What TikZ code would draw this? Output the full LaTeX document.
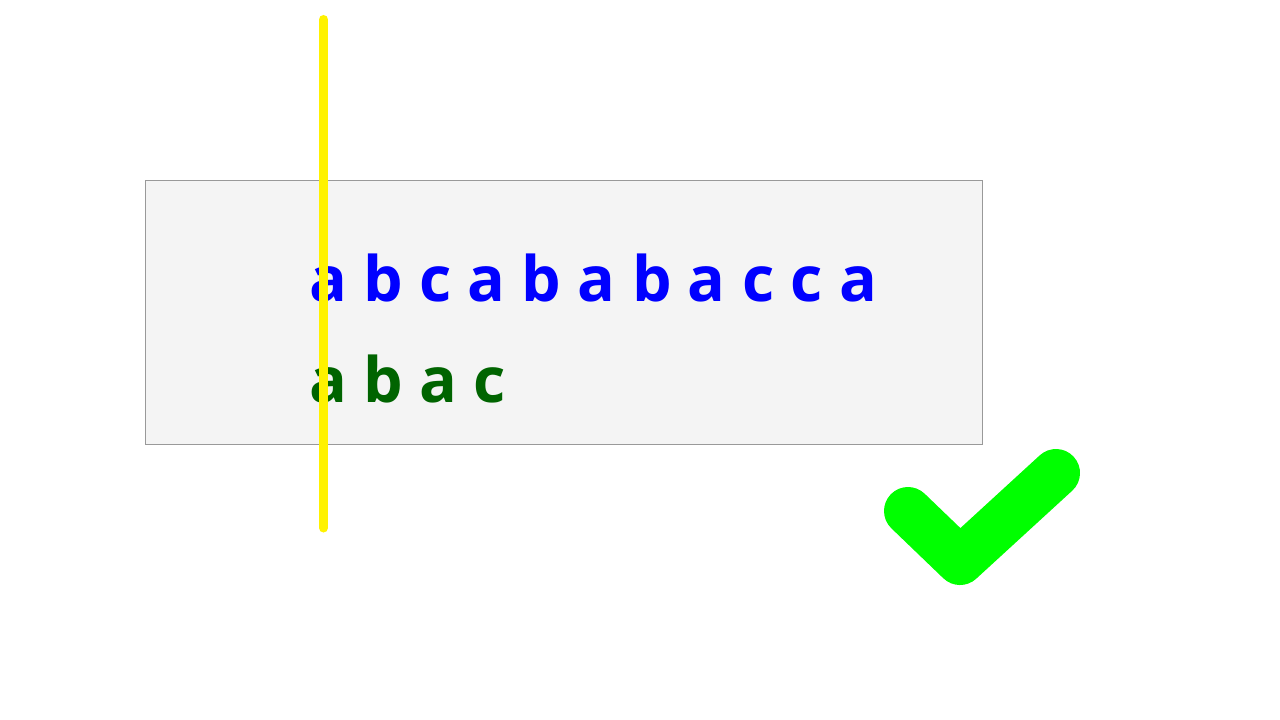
\documentclass[tikz,border=0pt]{standalone}
\usepackage{fontspec}
\setmainfont{Open Sans}
\usetikzlibrary{positioning}
\definecolor{panelgray}{HTML}{F4F4F4}
\definecolor{panelline}{HTML}{999999}
\definecolor{matchgreen}{HTML}{006400}
\definecolor{okgreen}{HTML}{00FF00}
\begin{document}
\begin{tikzpicture}[x=0.75pt, y=-0.75pt,
    panel/.style={draw=panelline, fill=panelgray, line width=0.75pt,
                  minimum width=627.75pt, minimum height=198pt, inner sep=0pt},
    seqtext/.style={anchor=base west, inner sep=0pt,
                    font=\bfseries\fontsize{47}{56}\selectfont},
    pointer/.style={draw=yellow, line width=6.75pt, line cap=round},
    tick/.style={draw=okgreen, line width=36pt, line cap=round, line join=round}
  ]
  \useasboundingbox (0,0) rectangle (1280,720);
  \node[panel] (box) at (564,312.5) {};

  \node[seqtext, text=blue]       (haystack) at (309,301) {a b c a b a b a c c a};
  \node[seqtext, text=matchgreen] (needle)   at (309,402) {a b a c};

  % current position
  \coordinate (ptrtop) at (323.5,19.5);
  \coordinate (ptrbot) at (323.5,528);
  \draw[pointer] (ptrtop) -- (ptrbot);

  % found
  \coordinate (tickl) at (908,511);
  \coordinate (tickv) at (960,561);
  \coordinate (tickr) at (1056,473);
  \draw[tick] (tickl) -- (tickv) -- (tickr);
\end{tikzpicture}
\end{document}
